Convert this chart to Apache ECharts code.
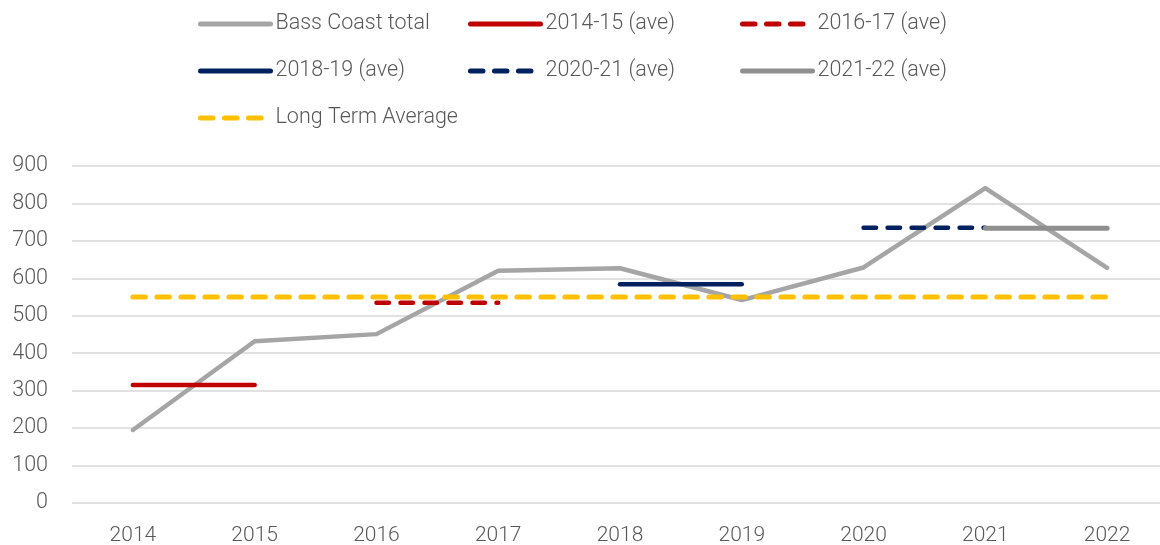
<!DOCTYPE html>
<html><head><meta charset="utf-8">
<script src="https://cdn.jsdelivr.net/npm/echarts@6/dist/echarts.min.js"></script>
<style>html,body{margin:0;padding:0;background:#fff}#c{width:1160px;height:545px}</style>
</head><body><div id="c"></div>
<script>
const years = ['2014','2015','2016','2017','2018','2019','2020','2021','2022'];
const total = [195, 432, 451, 620, 627, 542, 629, 841, 628];
const ave1415 = [315, 315, null, null, null, null, null, null, null];
const ave1617 = [null, null, 535, 535, null, null, null, null, null];
const ave1819 = [null, null, null, null, 584, 584, null, null, null];
const ave2021 = [null, null, null, null, null, null, 735, 735, null];
const ave2122 = [null, null, null, null, null, null, null, 734, 734];
const lta = [550, 550, 550, 550, 550, 550, 550, 550, 550];
const yTicks = {min: 0, max: 900, interval: 100};

const font = 'Roboto';
const txt = '#595959';
const dash = [12.5, 11.5];
function ser(name, data, color, width, dashed, z) {
  return {name, type: 'line', data, symbol: 'none', connectNulls: false, z: z,
    lineStyle: {color, width, type: dashed ? dash : 'solid', cap: 'round', join: 'round'},
    itemStyle: {color}, emphasis: {disabled: true}, silent: true};
}
const items = [
  {name: 'Bass Coast total', left: 193, top: 8},
  {name: '2014-15 (ave)', left: 463, top: 8},
  {name: '2016-17 (ave)', left: 735, top: 8},
  {name: '2018-19 (ave)', left: 193, top: 55},
  {name: '2020-21 (ave)', left: 463, top: 55},
  {name: '2021-22 (ave)', left: 735, top: 55},
  {name: 'Long Term Average', left: 193, top: 102}
];
const chart = echarts.init(document.getElementById('c'), null, {renderer: 'canvas'});
chart.setOption({
  animation: false,
  backgroundColor: '#fff',
  legend: items.map(it => ({
    data: [it.name], left: it.left, top: it.top, itemWidth: 70, itemHeight: 20,
    selectedMode: false,
    itemStyle: {opacity: 0},
    lineStyle: {width: 5, cap: 'round'},
    textStyle: {fontFamily: font, fontWeight: 300, fontSize: 21.5, color: txt}
  })),
  grid: {left: 72, width: 1096, top: 166, bottom: 42, containLabel: false, outerBoundsMode: 'none'},
  xAxis: {
    type: 'category', data: years, boundaryGap: true,
    axisLine: {show: false}, axisTick: {show: false},
    axisLabel: {fontFamily: font, fontWeight: 300, fontSize: 21, color: txt, margin: 22}
  },
  yAxis: {
    type: 'value', min: yTicks.min, max: yTicks.max, interval: yTicks.interval,
    axisLine: {show: false}, axisTick: {show: false},
    splitLine: {lineStyle: {color: '#d9d9d9', width: 1.5}},
    axisLabel: {fontFamily: font, fontWeight: 300, fontSize: 21.5, color: txt, margin: 24}
  },
  series: [
    ser('Bass Coast total', total, '#a5a5a5', 4.5, false, 2),
    ser('2014-15 (ave)', ave1415, '#c00000', 4.5, false, 3),
    ser('2016-17 (ave)', ave1617, '#c00000', 4.5, true, 3),
    ser('2018-19 (ave)', ave1819, '#002060', 4.5, false, 3),
    ser('2020-21 (ave)', ave2021, '#002060', 4.5, true, 3),
    ser('2021-22 (ave)', ave2122, '#8f8f8f', 5, false, 4),
    ser('Long Term Average', lta, '#ffc000', 5, true, 5)
  ]
});
</script></body></html>
